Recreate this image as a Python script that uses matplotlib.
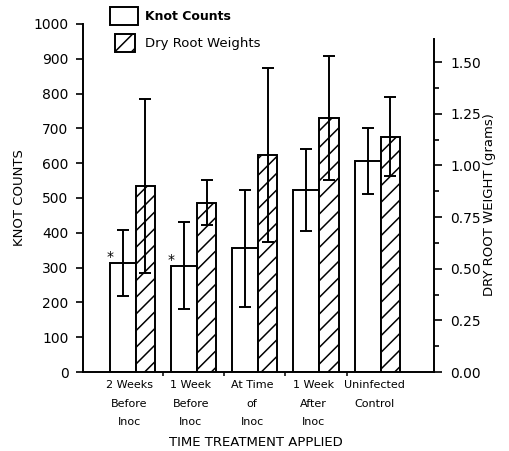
import numpy as np
import matplotlib.pyplot as plt
from matplotlib.patches import Rectangle

plt.rcParams['font.family'] = ['DejaVu Sans']
plt.rcParams['hatch.linewidth'] = 1.1

# ---------------------------------------------------------------------------
# Data
# ---------------------------------------------------------------------------
treatments = ["2 Weeks\nBefore\nInoc", "1 Week\nBefore\nInoc", "At Time\nof\nInoc",
              "1 Week\nAfter\nInoc", "Uninfected\nControl"]
knot_counts = [312, 305, 355, 523, 607]
knot_err = [95, 125, 168, 118, 95]
root_weight = [0.90, 0.82, 1.05, 1.23, 1.14]      # grams
root_err = [0.42, 0.11, 0.42, 0.30, 0.19]
significant = [True, True, False, False, False]

W, H = 509, 451
fig = plt.figure(figsize=(W / 100, H / 100), dpi=100)
ax = fig.add_axes([83 / W, 1 - 372 / H, (434 - 83) / W, (372 - 24) / H])
ax2 = ax.twinx()

x = np.arange(len(treatments))
w_knot, w_root = 0.425, 0.315
err_style = dict(ecolor='black', elinewidth=1.4, capsize=4.5, capthick=1.4)

ax.bar(x - w_knot / 2, knot_counts, w_knot, color='white', edgecolor='black',
       linewidth=1.4, yerr=knot_err, error_kw=err_style, zorder=2)
ax2.bar(x + w_root / 2, root_weight, w_root, facecolor='white', edgecolor='black',
        linewidth=1.4, hatch='//', yerr=root_err, error_kw=err_style, zorder=2)

for xi, yi, sig in zip(x, knot_counts, significant):
    if sig:
        ax.annotate('*', (xi - w_knot, yi), xytext=(0, 1.5), textcoords='offset points',
                    ha='center', va='baseline', fontsize=10)

# axes styling
ax.set_xlim(-0.86, 4.87)
ax.set_ylim(0, 1000)
ax2.set_ylim(0, 1.685)
ax.set_yticks(np.arange(0, 1001, 100))
ax2.set_yticks(np.arange(0, 1.51, 0.25))
ax2.set_yticks(np.arange(0.125, 1.6, 0.25), minor=True)
ax2.yaxis.set_major_formatter(plt.FormatStrFormatter('%.2f'))

# group labels as text, small ticks between groups
ax.set_xticks(x[:-1] + 0.445)
ax.tick_params(axis='x', length=3, width=1.1, direction='out', labelbottom=False)
for xi, lbl in zip(x, treatments):
    ax.text(xi - 0.1, -0.024, lbl, transform=ax.get_xaxis_transform(), ha='center',
            va='top', fontsize=8, linespacing=2.05)

ax.tick_params(axis='y', length=5, width=1.2, pad=5.5, labelsize=10)
ax2.tick_params(axis='y', which='major', length=6, width=1.2, pad=5.5, labelsize=10)
ax2.tick_params(axis='y', which='minor', length=3.5, width=1.2)

for a in (ax, ax2):
    a.spines['top'].set_visible(False)
ax.spines['right'].set_visible(False)
ax2.spines['left'].set_visible(False)
ax2.spines['bottom'].set_visible(False)
ax.spines['left'].set_bounds(0, 1000)
ax2.spines['right'].set_bounds(0, 1.61)
for s in ('left', 'bottom'):
    ax.spines[s].set_linewidth(1.4)
ax2.spines['right'].set_linewidth(1.4)

# labels
fig.text(20 / W, 1 - 198 / H, "KNOT COUNTS", rotation=90, ha='center', va='center',
         fontsize=9.5)
fig.text(490 / W, 1 - 205 / H, "DRY ROOT WEIGHT (grams)", rotation=90, ha='center',
         va='center', fontsize=9.5)
fig.text(256 / W, 1 - 442 / H, "TIME TREATMENT APPLIED", ha='center', va='center',
         fontsize=9.5)

# legend drawn by hand
fig.add_artist(Rectangle((110 / W, 1 - 25 / H), 28 / W, 18 / H, transform=fig.transFigure,
                         facecolor='white', edgecolor='black', linewidth=1.4))
fig.add_artist(Rectangle((115 / W, 1 - 51.5 / H), 20 / W, 18 / H, transform=fig.transFigure,
                         facecolor='white', edgecolor='black', linewidth=1.4, hatch='//'))
fig.text(145 / W, 1 - 16.5 / H, "Knot Counts", va='center', fontsize=9, fontweight='bold')
fig.text(145 / W, 1 - 43 / H, "Dry Root Weights", va='center', fontsize=9.5)

fig.savefig("out.png", dpi=100)
